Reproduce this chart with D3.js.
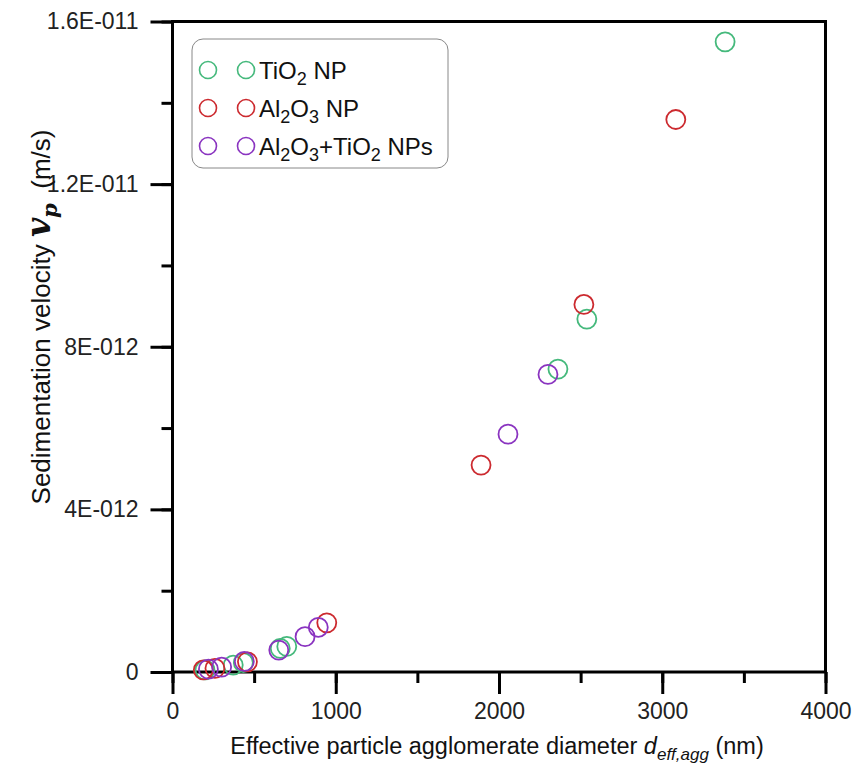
<!DOCTYPE html>
<html>
<head>
<meta charset="utf-8">
<script src="https://cdn.jsdelivr.net/npm/d3@7"></script>
<style>
  body { margin: 0; background: #fff; }
  text { font-family: "Liberation Sans", Arial, sans-serif; }
</style>
</head>
<body>
<div id="chart"></div>
<script>
// diameter (nm), velocity (m/s)
const tio2 = [
  [199, 0.05e-12], [372, 0.17e-12], [434, 0.23e-12], [660, 0.58e-12], [700, 0.63e-12],
  [2361, 7.45e-12], [2538, 8.68e-12], [3385, 15.5e-12]
];
const al2o3 = [
  [189, 0.05e-12], [260, 0.09e-12], [459, 0.25e-12], [945, 1.21e-12],
  [1890, 5.09e-12], [2520, 9.04e-12], [3083, 13.59e-12]
];
const mixed = [
  [220, 0.07e-12], [301, 0.12e-12], [440, 0.26e-12], [651, 0.54e-12], [812, 0.87e-12],
  [893, 1.10e-12], [2055, 5.85e-12], [2300, 7.32e-12]
];
const xTicks = [0, 1000, 2000, 3000, 4000];
const yTicks = [0, 4e-12, 8e-12, 1.2e-11, 1.6e-11];
const yTickLabels = ['0', '4E-012', '8E-012', '1.2E-011', '1.6E-011'];

const series = [
  { name: 'TiO2', data: tio2, color: '#45b97c' },
  { name: 'Al2O3', data: al2o3, color: '#cc2a2f' },
  { name: 'mixed', data: mixed, color: '#8a34c0' }
];

const width = 854, height = 765;
const margin = {top: 21.5, right: 28.5, bottom: 93, left: 172.5};

const svg = d3.select('#chart').append('svg')
  .attr('width', width)
  .attr('height', height);

const x = d3.scaleLinear().domain([0, 4000]).range([margin.left, width - margin.right]);
const y = d3.scaleLinear().domain([0, 1.6e-11]).range([height - margin.bottom, margin.top]);

// frame (top/right)
svg.append('rect')
  .attr('x', x(0)).attr('y', y(1.6e-11))
  .attr('width', x(4000) - x(0)).attr('height', y(0) - y(1.6e-11))
  .attr('fill', 'none').attr('stroke', '#000').attr('stroke-width', 3);

// x axis
const xAxis = svg.append('g').attr('transform', `translate(0,${y(0)})`);
xAxis.call(d3.axisBottom(x).tickValues(d3.range(0, 4001, 500)).tickSize(11).tickFormat(''))
  .call(g => g.select('.domain').remove())
  .call(g => g.selectAll('line').attr('stroke-width', 3));
xAxis.append('g')
  .call(d3.axisBottom(x).tickValues(xTicks).tickSize(22).tickFormat(d3.format('d')))
  .call(g => g.select('.domain').remove())
  .call(g => g.selectAll('line').attr('stroke-width', 3))
  .call(g => g.selectAll('text').attr('font-size', 23).attr('fill', '#222')
    .attr('font-family', '"Liberation Sans", Arial, sans-serif').attr('dy', '0.95em'));

// y axis
const yAxis = svg.append('g').attr('transform', `translate(${x(0)},0)`);
yAxis.call(d3.axisLeft(y).tickValues(d3.range(0, 17, 2).map(d => d * 1e-12)).tickSize(11).tickFormat(''))
  .call(g => g.select('.domain').remove())
  .call(g => g.selectAll('line').attr('stroke-width', 3));
yAxis.append('g')
  .call(d3.axisLeft(y).tickValues(yTicks).tickSize(22).tickFormat((d, i) => yTickLabels[i]))
  .call(g => g.select('.domain').remove())
  .call(g => g.selectAll('line').attr('stroke-width', 3))
  .call(g => g.selectAll('text').attr('font-size', 23).attr('fill', '#222')
    .attr('font-family', '"Liberation Sans", Arial, sans-serif').attr('x', -34));

// axis labels
const xl = svg.append('text')
  .attr('x', 497).attr('y', 754)
  .attr('text-anchor', 'middle').attr('font-size', 23.5).attr('fill', '#111');
xl.append('tspan').text('Effective particle agglomerate diameter ');
xl.append('tspan').attr('font-style', 'italic').text('d');
xl.append('tspan').attr('font-style', 'italic').attr('font-size', 17).attr('dy', 6).text('eff,agg');
xl.append('tspan').attr('dy', -6).text(' (nm)');

const yl = svg.append('text')
  .attr('transform', 'translate(50,317) rotate(-90)')
  .attr('text-anchor', 'middle').attr('font-size', 26).attr('fill', '#111');
yl.append('tspan').text('Sedimentation velocity ');
yl.append('tspan').attr('font-family', '"DejaVu Serif", serif').attr('font-weight', 'bold')
  .attr('font-style', 'italic').attr('font-size', 33).text('v');
yl.append('tspan').attr('font-family', '"DejaVu Serif", serif').attr('font-weight', 'bold')
  .attr('font-style', 'italic').attr('font-size', 21).attr('dy', 7).text('p');
yl.append('tspan').attr('dy', -7).text('\u00a0\u00a0(m/s)');

// points
series.forEach(s => {
  svg.append('g').selectAll('circle')
    .data(s.data)
    .join('circle')
    .attr('cx', d => x(d[0]))
    .attr('cy', d => y(d[1]))
    .attr('r', 9.5)
    .attr('fill', 'none')
    .attr('stroke', s.color)
    .attr('stroke-width', 1.8);
});

// legend
const legend = svg.append('g');
legend.append('rect')
  .attr('x', 192).attr('y', 39).attr('width', 256).attr('height', 129)
  .attr('rx', 11).attr('fill', '#fff').attr('stroke', '#888').attr('stroke-width', 1);

const legendRows = [
  { parts: [['Ti', 0], ['O', 0], ['2', 1], [' NP', 0]] },
  { parts: [['Al', 0], ['2', 1], ['O', 0], ['3', 1], [' NP', 0]] },
  { parts: [['Al', 0], ['2', 1], ['O', 0], ['3', 1], ['+TiO', 0], ['2', 1], [' NPs', 0]] }
];
legendRows.forEach((row, i) => {
  const cy = 70 + i * 38;
  const col = series[i].color;
  [208, 246].forEach(cx => {
    legend.append('circle').attr('cx', cx).attr('cy', cy).attr('r', 8.5)
      .attr('fill', 'none').attr('stroke', col).attr('stroke-width', 1.6);
  });
  const t = legend.append('text').attr('x', 259).attr('y', cy + 9)
    .attr('font-size', 24).attr('fill', '#111');
  let sub = 0;
  row.parts.forEach(p => {
    const span = t.append('tspan').text(p[0]);
    if (p[1] && !sub) { span.attr('font-size', 18).attr('dy', 6); sub = 1; }
    else if (!p[1] && sub) { span.attr('dy', -6); sub = 0; }
    else if (p[1]) span.attr('font-size', 18);
  });
});
</script>
</body>
</html>
